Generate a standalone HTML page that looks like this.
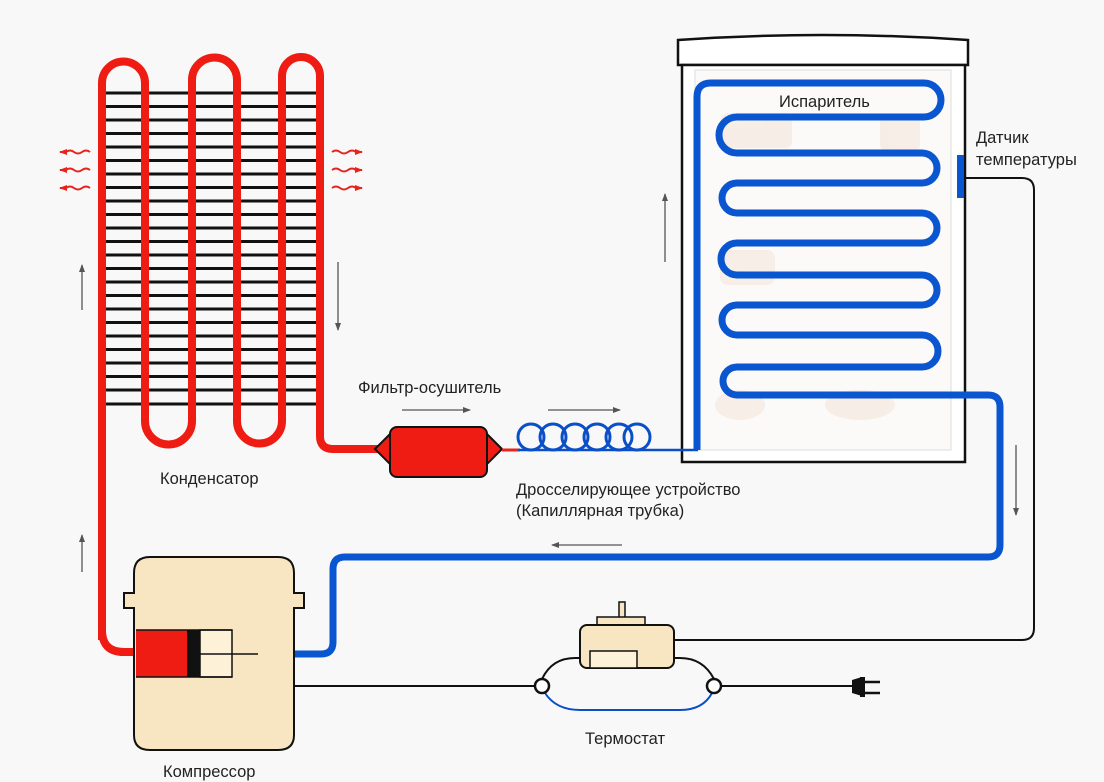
<!DOCTYPE html>
<html><head><meta charset="utf-8"><style>
html,body{margin:0;padding:0;background:#f8f8f8;}
svg{display:block;}
text{font-family:"Liberation Sans",sans-serif;font-size:16.5px;fill:#222;}
</style></head><body>
<svg width="1104" height="782" viewBox="0 0 1104 782" xmlns="http://www.w3.org/2000/svg">
<defs>
<marker id="ah" markerWidth="8" markerHeight="8" refX="7" refY="4" orient="auto" markerUnits="userSpaceOnUse"><path d="M0,1 L8,4 L0,7 Z" fill="#555"/></marker>
<marker id="rh" markerWidth="8" markerHeight="8" refX="7" refY="4" orient="auto" markerUnits="userSpaceOnUse"><path d="M0,1 L8,4 L0,7 Z" fill="#e8231c"/></marker>
</defs>
<rect width="1104" height="782" fill="#f8f8f8"/>

<!-- fridge -->
<path d="M678,40 Q822,30 968,40 L968,65 L678,65 Z" fill="#fff" stroke="#111" stroke-width="2.5"/>
<rect x="682" y="65" width="283" height="397" fill="#fff" stroke="#111" stroke-width="2.5"/>
<rect x="695" y="70" width="256" height="380" fill="#fbfaf8" stroke="#ddd" stroke-width="1"/>
<g fill="#f3e6dc" opacity="0.6">
<rect x="722" y="113" width="70" height="35" rx="6"/>
<rect x="880" y="115" width="40" height="35" rx="5"/>
<rect x="720" y="250" width="55" height="35" rx="8"/>
<ellipse cx="740" cy="405" rx="25" ry="15"/><ellipse cx="860" cy="405" rx="35" ry="15"/>
</g>

<!-- condenser fins -->
<g stroke="#111" stroke-width="3">
<line x1="102" y1="93" x2="320" y2="93"/><line x1="102" y1="106.5" x2="320" y2="106.5"/><line x1="102" y1="120" x2="320" y2="120"/><line x1="102" y1="133.5" x2="320" y2="133.5"/><line x1="102" y1="147" x2="320" y2="147"/><line x1="102" y1="160.5" x2="320" y2="160.5"/><line x1="102" y1="174" x2="320" y2="174"/><line x1="102" y1="187.5" x2="320" y2="187.5"/><line x1="102" y1="201" x2="320" y2="201"/><line x1="102" y1="214.5" x2="320" y2="214.5"/><line x1="102" y1="228" x2="320" y2="228"/><line x1="102" y1="241.5" x2="320" y2="241.5"/><line x1="102" y1="255" x2="320" y2="255"/><line x1="102" y1="268.5" x2="320" y2="268.5"/><line x1="102" y1="282" x2="320" y2="282"/><line x1="102" y1="295.5" x2="320" y2="295.5"/><line x1="102" y1="309" x2="320" y2="309"/><line x1="102" y1="322.5" x2="320" y2="322.5"/><line x1="102" y1="336" x2="320" y2="336"/><line x1="102" y1="349.5" x2="320" y2="349.5"/><line x1="102" y1="363" x2="320" y2="363"/><line x1="102" y1="376.5" x2="320" y2="376.5"/><line x1="102" y1="390" x2="320" y2="390"/><line x1="102" y1="404" x2="320" y2="404"/>
</g>
<!-- condenser tube -->
<path d="M102,640 L102,83 A21.5,21.5 0 0 1 145,83 L145,421 A23.5,23.5 0 0 0 192,421 L192,80 A22.5,22.5 0 0 1 237,80 L237,421 A22.5,22.5 0 0 0 282,421 L282,76 A19,19 0 0 1 320,76 L320,436 Q320,449 333,449 L390,449" fill="none" stroke="#ee1c12" stroke-width="8" stroke-linejoin="round"/>
<path d="M102,630 Q102,652 124,652 L137,652" fill="none" stroke="#ee1c12" stroke-width="8"/>

<!-- heat squiggles -->
<g fill="none" stroke="#e8231c" stroke-width="2">
<path d="M90,152 q-4,-3 -8,0 q-4,3 -8,0 q-4,-3 -8,0 L60,152" marker-end="url(#rh)"/>
<path d="M90,170 q-4,-3 -8,0 q-4,3 -8,0 q-4,-3 -8,0 L60,170" marker-end="url(#rh)"/>
<path d="M90,188 q-4,-3 -8,0 q-4,3 -8,0 q-4,-3 -8,0 L60,188" marker-end="url(#rh)"/>
<path d="M332,152 q4,-3 8,0 q4,3 8,0 q4,-3 8,0 L362,152" marker-end="url(#rh)"/>
<path d="M332,170 q4,-3 8,0 q4,3 8,0 q4,-3 8,0 L362,170" marker-end="url(#rh)"/>
<path d="M332,188 q4,-3 8,0 q4,3 8,0 q4,-3 8,0 L362,188" marker-end="url(#rh)"/>
</g>

<!-- filter -->
<path d="M375,449 L392,432 L485,432 L502,449 L485,466 L392,466 Z" fill="#ee1c12" stroke="#111" stroke-width="2"/>
<rect x="390" y="427" width="97" height="50" rx="7" fill="#ee1c12" stroke="#111" stroke-width="2"/>
<line x1="502" y1="450" x2="520" y2="450" stroke="#e8231c" stroke-width="3"/>

<!-- capillary -->
<g fill="none" stroke="#0a4fc8" stroke-width="3">
<circle cx="531" cy="437" r="13"/><circle cx="553" cy="437" r="13"/><circle cx="575" cy="437" r="13"/><circle cx="597" cy="437" r="13"/><circle cx="619" cy="437" r="13"/><circle cx="637" cy="437" r="13"/>
<path d="M518,450 L698,450" stroke-width="2.5"/>
</g>

<!-- evaporator & return -->
<path d="M697,450 L697,97 Q697,83 711,83 L924,83 A17,17 0 0 1 924,117 L737,117 A18,18 0 0 0 737,153 L922,153 A15,15 0 0 1 922,183 L737,183 A15,15 0 0 0 737,213 L922,213 A15,15 0 0 1 922,243 L737,243 A16,16 0 0 0 737,275 L922,275 A15,15 0 0 1 922,305 L737,305 A15,15 0 0 0 737,335 L922,335 A16,16 0 0 1 922,367 L737,367 A14,14 0 0 0 737,395 L988,395 Q1000,395 1000,407 L1000,545 Q1000,557 988,557 L345,557 Q333,557 333,569 L333,642 Q333,654 321,654 L294,654" fill="none" stroke="#0a55d0" stroke-width="7" stroke-linejoin="round"/>

<!-- sensor -->
<rect x="957" y="155" width="7" height="43" fill="#0a55d0"/>
<path d="M965,178 L1022,178 Q1034,178 1034,190 L1034,628 Q1034,640 1022,640 L674,640" fill="none" stroke="#111" stroke-width="2"/>

<!-- compressor -->
<path d="M150,557 L278,557 Q294,557 294,573 L294,593 L304,593 L304,608 L294,608 L294,735 Q294,750 278,750 L150,750 Q134,750 134,735 L134,608 L124,608 L124,593 L134,593 L134,573 Q134,557 150,557 Z" fill="#f8e6c2" stroke="#111" stroke-width="2"/>
<rect x="136" y="630" width="51" height="47" fill="#ee1c12"/>
<rect x="187" y="630" width="13" height="47" fill="#111"/>
<rect x="200" y="630" width="32" height="47" fill="#fdf1d8" stroke="#111" stroke-width="1.5"/>
<line x1="200" y1="654" x2="258" y2="654" stroke="#111" stroke-width="1.5"/>
<line x1="136" y1="630" x2="232" y2="630" stroke="#111" stroke-width="1.5"/>
<line x1="136" y1="677" x2="232" y2="677" stroke="#111" stroke-width="1.5"/>

<!-- wiring & thermostat -->
<line x1="294" y1="686" x2="535" y2="686" stroke="#111" stroke-width="2"/>
<path d="M542,679 Q552,658 575,658 L582,658" fill="none" stroke="#111" stroke-width="2"/>
<path d="M672,658 L680,658 Q703,658 714,679" fill="none" stroke="#111" stroke-width="2"/>
<path d="M545,693 Q556,710 580,710 L680,710 Q703,710 712,693" fill="none" stroke="#0a4fc8" stroke-width="2"/>
<circle cx="542" cy="686" r="7" fill="#fff" stroke="#111" stroke-width="2.5"/>
<circle cx="714" cy="686" r="7" fill="#fff" stroke="#111" stroke-width="2.5"/>
<line x1="721" y1="686" x2="858" y2="686" stroke="#111" stroke-width="2"/>
<path d="M852,680 L862,677 L862,696 L852,693 Z" fill="#111"/>
<rect x="860" y="677" width="5" height="20" fill="#111"/>
<line x1="864" y1="682" x2="880" y2="682" stroke="#111" stroke-width="2.5"/>
<line x1="864" y1="693" x2="880" y2="693" stroke="#111" stroke-width="2.5"/>
<rect x="619" y="602" width="6" height="16" fill="#f8e6c2" stroke="#111" stroke-width="1.5"/>
<rect x="597" y="617" width="48" height="8" fill="#f8e6c2" stroke="#111" stroke-width="1.5"/>
<rect x="580" y="625" width="94" height="43" rx="7" fill="#f8e6c2" stroke="#111" stroke-width="2"/>
<rect x="590" y="651" width="47" height="17" fill="#fdf1d8" stroke="#111" stroke-width="1.5"/>

<!-- flow arrows -->
<g stroke="#555" stroke-width="1.3" fill="none">
<line x1="82" y1="310" x2="82" y2="265" marker-end="url(#ah)"/>
<line x1="82" y1="572" x2="82" y2="535" marker-end="url(#ah)"/>
<line x1="338" y1="262" x2="338" y2="330" marker-end="url(#ah)"/>
<line x1="402" y1="410" x2="470" y2="410" marker-end="url(#ah)"/>
<line x1="548" y1="410" x2="620" y2="410" marker-end="url(#ah)"/>
<line x1="665" y1="262" x2="665" y2="194" marker-end="url(#ah)"/>
<line x1="1016" y1="445" x2="1016" y2="515" marker-end="url(#ah)"/>
<line x1="622" y1="545" x2="552" y2="545" marker-end="url(#ah)"/>
</g>

<!-- labels -->
<text x="160" y="484">Конденсатор</text>
<text x="163" y="777">Компрессор</text>
<text x="585" y="744">Термостат</text>
<text x="358" y="393">Фильтр-осушитель</text>
<text x="516" y="495">Дросселирующее устройство</text>
<text x="516" y="516">(Капиллярная трубка)</text>
<text x="779" y="107">Испаритель</text>
<text x="976" y="143">Датчик</text>
<text x="976" y="165">температуры</text>
</svg>
</body></html>
